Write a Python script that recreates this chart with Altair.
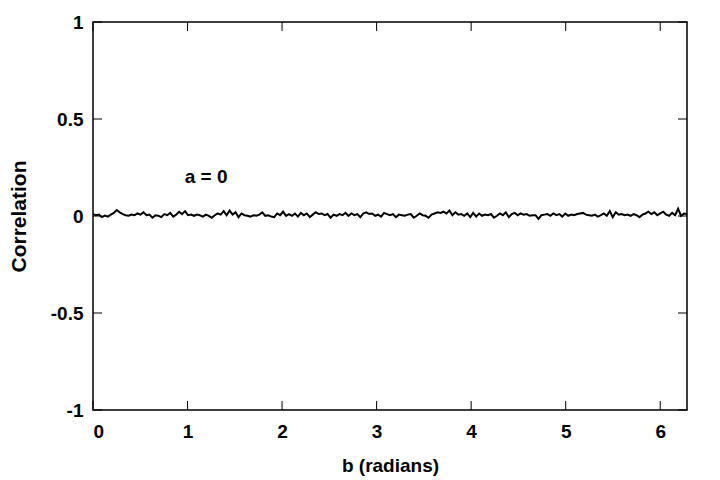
import math
import altair as alt
import pandas as pd

corr = [
    0.010, 0.004, 0.007, -0.006, 0.002, -0.003, 0.007, 0.016, 0.031, 0.019, 0.010, 0.004, 0.001, 0.007, 0.004, 0.013, 0.007, 0.019, 0.004, 0.007, -0.009, 0.004, 0.001, -0.006, 0.010, 0.004, 0.016, -0.003, 0.007, 0.022, 0.010, 0.025, 0.004, 0.007,
    0.001, 0.007, 0.004, -0.003, 0.007, 0.001, -0.009, 0.004, 0.013, 0.007, 0.025, 0.004, 0.028, 0.007, 0.019, -0.006, 0.013, 0.004, 0.001, -0.003, 0.004, 0.001, 0.007, 0.019, 0.001, 0.004, -0.003, -0.006, 0.013, 0.004, 0.022, 0.001, 0.010,
    0.001, 0.013, -0.003, 0.016, 0.004, 0.013, -0.006, 0.007, 0.019, 0.010, 0.013, 0.004, 0.010, -0.009, 0.007, 0.001, 0.010, 0.004, 0.016, 0.001, 0.013, 0.004, 0.010, -0.006, 0.013, 0.019, 0.010, 0.013, 0.001, 0.007, -0.003, 0.016, 0.010,
    0.004, 0.010, -0.006, 0.007, 0.004, 0.001, 0.007, 0.010, -0.009, 0.001, 0.013, 0.004, 0.001, -0.009, 0.007, 0.013, 0.019, 0.016, 0.022, 0.013, 0.028, 0.004, 0.019, 0.007, 0.010, 0.001, 0.013, -0.006, 0.016, -0.003, 0.013, 0.001, 0.007,
    0.004, 0.010, -0.009, 0.001, 0.013, 0.004, 0.019, -0.006, 0.010, 0.016, 0.004, 0.013, 0.007, 0.010, 0.001, 0.004, 0.004, -0.015, 0.004, 0.007, 0.010, 0.001, 0.013, 0.004, 0.010, -0.003, 0.013, 0.001, 0.007, 0.004, 0.010, 0.013, 0.016,
    0.007, 0.004, 0.001, 0.007, -0.003, 0.004, 0.013, 0.001, 0.025, -0.006, 0.019, 0.007, 0.010, 0.004, 0.007, 0.001, 0.010, 0.004, -0.006, 0.007, 0.013, 0.022, 0.010, 0.019, 0.004, 0.013, 0.022, 0.007, 0.001, 0.016, 0.004, 0.037, 0.001, 0.013, 0.010,
]
x_max = 2 * math.pi
b_vals = [x_max * i / (len(corr) - 1) for i in range(len(corr))]

x_ticks = [0, 1, 2, 3, 4, 5, 6]
y_ticks = [-1, -0.5, 0, 0.5, 1]
label_text = ["a = 0"]
label_x = [0.97]
label_y = [0.2]

W, H = 594, 388
TICK = 9
FONT = "Liberation Sans"
FS = 19

df = pd.DataFrame({"b": b_vals, "c": corr})
xt = pd.DataFrame({"b": x_ticks})
yt = pd.DataFrame({"c": y_ticks})
lab = pd.DataFrame({"txt": label_text, "b": label_x, "c": label_y})

xscale = alt.Scale(domain=[0, x_max], nice=False, zero=False)
yscale = alt.Scale(domain=[-1, 1], nice=False)

xaxis = alt.Axis(values=x_ticks, ticks=False, domain=False, grid=False,
                 labelPadding=12, titlePadding=15, labelExpr="'' + datum.value")
yaxis = alt.Axis(values=y_ticks, ticks=False, domain=False, grid=False,
                 labelPadding=10, titlePadding=21, titleFontSize=21,
                 labelExpr="'' + datum.value")
X = alt.X("b:Q", scale=xscale, title="b (radians)", axis=xaxis)
Y = alt.Y("c:Q", scale=yscale, title="Correlation", axis=yaxis)

line = alt.Chart(df).mark_line(color="black", strokeWidth=2).encode(x=X, y=Y)

xb = alt.Chart(xt).mark_rule(color="black", strokeWidth=1).encode(
    x=X, y=alt.value(H), y2=alt.value(H - TICK))
xtop = alt.Chart(xt).mark_rule(color="black", strokeWidth=1).encode(
    x=X, y=alt.value(0), y2=alt.value(TICK))
yl = alt.Chart(yt).mark_rule(color="black", strokeWidth=1).encode(
    y=Y, x=alt.value(0), x2=alt.value(TICK))
yr = alt.Chart(yt).mark_rule(color="black", strokeWidth=1).encode(
    y=Y, x=alt.value(W), x2=alt.value(W - TICK))

text = alt.Chart(lab).mark_text(align="left", baseline="middle", font=FONT,
                                fontWeight="bold", fontSize=FS, color="black").encode(
    x=X, y=Y, text="txt:N")

chart = alt.layer(line, xb, xtop, yl, yr, text).properties(
    width=W, height=H,
    background="white",
    autosize=alt.AutoSizeParams(type="none"),
    padding={"left": 85, "top": 14, "right": 20, "bottom": 76},
).configure_view(stroke="black", strokeWidth=1.5).configure_axis(
    labelFont=FONT, labelFontSize=FS, labelFontWeight="bold", labelColor="black",
    titleFont=FONT, titleFontSize=FS, titleFontWeight="bold", titleColor="black",
)

chart.save("out.html", embed_options={"renderer": "svg", "actions": False})
